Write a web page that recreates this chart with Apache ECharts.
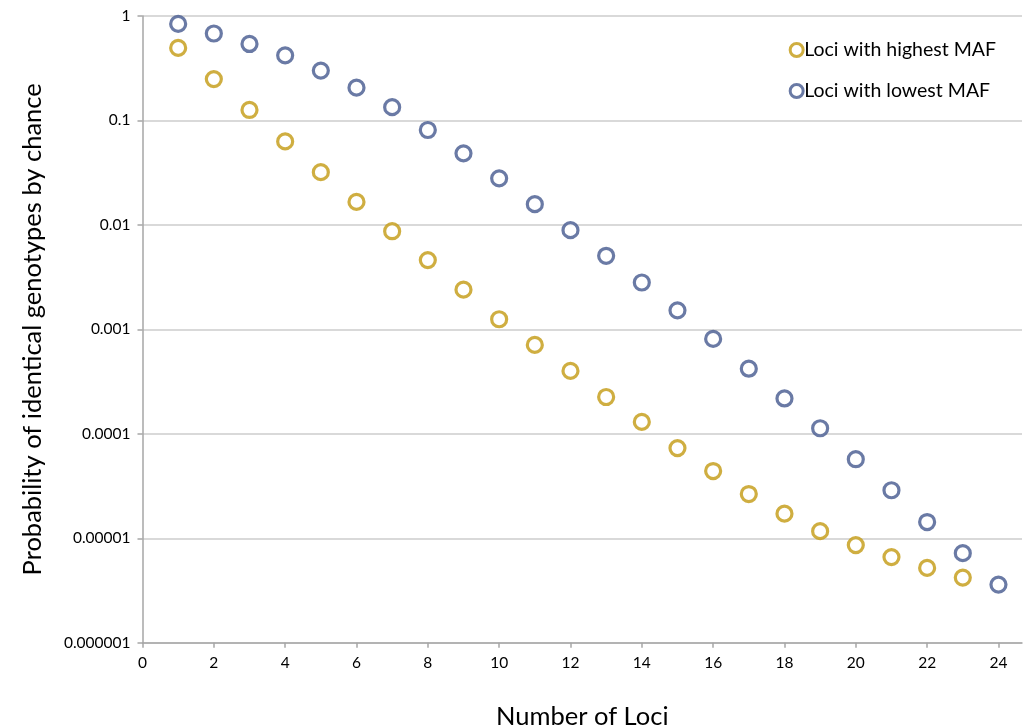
<!DOCTYPE html>
<html>
<head>
<meta charset="utf-8">
<script src="https://cdn.jsdelivr.net/npm/echarts@6/dist/echarts.min.js"></script>
<style>
  html, body { margin: 0; padding: 0; background: #fff; }
  #chart { width: 1023px; height: 728px; }
</style>
</head>
<body>
<div id="chart"></div>
<script>
// Number of loci (x values)
const lociHigh = [1,2,3,4,5,6,7,8,9,10,11,12,13,14,15,16,17,18,19,20,21,22,23];
const lociLow  = [1,2,3,4,5,6,7,8,9,10,11,12,13,14,15,16,17,18,19,20,21,22,23,24];

// Probability of identical genotypes by chance
const highestMAF = [0.495, 0.249, 0.126, 0.063, 0.032, 0.0166, 0.0087, 0.0046, 0.0024, 0.00125,
  0.00071, 0.00040, 0.000225, 0.000130, 0.000073, 0.000044, 0.0000265, 0.0000172, 0.0000117,
  0.0000086, 0.0000066, 0.0000052, 0.0000042];
const lowestMAF = [0.84, 0.68, 0.54, 0.42, 0.30, 0.206, 0.134, 0.081, 0.0484, 0.0279,
  0.0158, 0.0089, 0.00506, 0.00281, 0.00152, 0.00081, 0.00042, 0.000218, 0.000113,
  0.0000571, 0.0000288, 0.0000143, 0.0000072, 0.0000036];

const seriesNames = ['Loci with highest MAF', 'Loci with lowest MAF'];
const yTickLabels = ['1', '0.1', '0.01', '0.001', '0.0001', '0.00001', '0.000001'];
const xTickLabels = ['0','2','4','6','8','10','12','14','16','18','20','22','24'];

const FONT = 'Lato, "Liberation Sans", sans-serif';
const GOLD = '#C39A12';
const BLUE = '#45598E';
const xTickValues = xTickLabels.map(Number);

const chart = echarts.init(document.getElementById('chart'));
chart.setOption({
  animation: false,
  backgroundColor: '#fff',
  grid: { left: 142.5, top: 16, right: 1, bottom: 85.3, outerBoundsMode: 'none', containLabel: false },
  legend: {
    orient: 'vertical',
    right: 22,
    top: 35,
    itemWidth: 13,
    itemHeight: 13,
    itemGap: 21,
    itemStyle: { borderWidth: 3 },
    textStyle: { fontFamily: FONT, fontSize: 19.5, color: '#000', padding: [0, 0, 0, -4] },
    data: seriesNames
  },
  xAxis: {
    type: 'value',
    min: 0,
    max: 24.66,
    axisLine: { show: true, lineStyle: { color: '#a6a6a6', width: 1.5 } },
    axisTick: { show: true, length: 5, customValues: xTickValues, lineStyle: { color: '#a6a6a6', width: 1.5 } },
    splitLine: { show: false },
    axisLabel: {
      fontFamily: FONT, fontSize: 15.5, color: '#000', margin: 12,
      customValues: xTickValues,
      formatter: function (v) { return xTickLabels[xTickValues.indexOf(v)] || ''; }
    },
    name: 'Number of Loci',
    nameLocation: 'middle',
    nameGap: 61,
    nameTextStyle: { fontFamily: FONT, fontSize: 25.5, color: '#000' }
  },
  yAxis: {
    type: 'log',
    logBase: 10,
    min: 0.000001,
    max: 1,
    axisLine: { show: true, lineStyle: { color: '#a6a6a6', width: 1.5 } },
    axisTick: { show: true, length: 5, lineStyle: { color: '#a6a6a6', width: 1.5 } },
    splitLine: { show: true, lineStyle: { color: '#cccccc', width: 1.5 } },
    axisLabel: {
      fontFamily: FONT, fontSize: 15.5, color: '#000', margin: 12,
      formatter: function (v) {
        const k = Math.round(-Math.log10(v));
        return yTickLabels[k] !== undefined ? yTickLabels[k] : '';
      }
    },
    name: 'Probability of identical genotypes by chance',
    nameLocation: 'middle',
    nameGap: 97,
    nameTextStyle: { fontFamily: FONT, fontSize: 25.5, color: '#000' }
  },
  series: [
    {
      name: seriesNames[0],
      type: 'scatter',
      symbol: 'circle',
      symbolSize: 15,
      itemStyle: { color: '#ffffff', borderColor: GOLD, borderWidth: 3.2 },
      data: lociHigh.map((x, i) => [x, highestMAF[i]])
    },
    {
      name: seriesNames[1],
      type: 'scatter',
      symbol: 'circle',
      symbolSize: 15,
      itemStyle: { color: '#ffffff', borderColor: BLUE, borderWidth: 3.2 },
      data: lociLow.map((x, i) => [x, lowestMAF[i]])
    }
  ]
});
</script>
</body>
</html>
